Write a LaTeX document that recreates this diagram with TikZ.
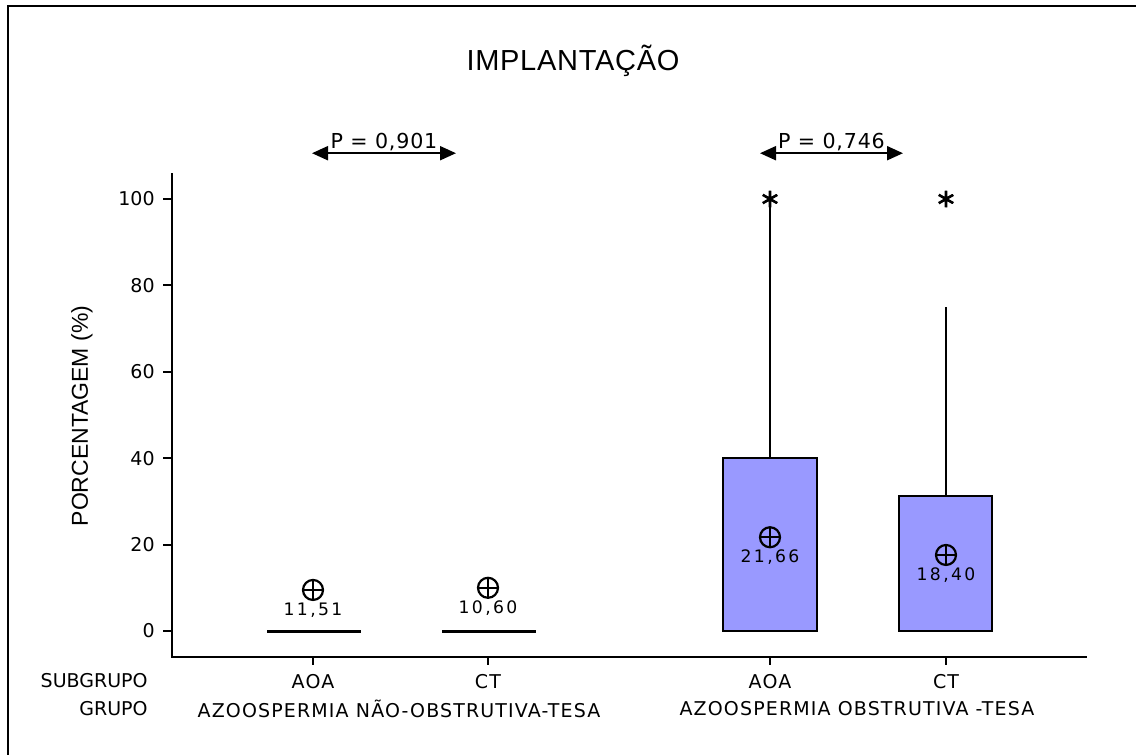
\documentclass[tikz,border=0pt]{standalone}
\usepackage{fontspec}
\setmainfont{DejaVu Sans}
\newfontfamily\arialfont{Liberation Sans}
\newfontfamily\titlefont[LetterSpace=2.5]{Liberation Sans}
\newfontfamily\widefont[LetterSpace=6]{DejaVu Sans}
\newfontfamily\meanfont[LetterSpace=14]{DejaVu Sans}
\newfontfamily\pfont[LetterSpace=4]{DejaVu Sans}
\usetikzlibrary{arrows.meta}
\definecolor{boxblue}{RGB}{153,153,255}
\tikzset{
  axis/.style={line width=1pt},
  lbl/.style={font=\fontsize{9.5}{11}\selectfont, inner sep=0},
  grp/.style={font=\widefont\fontsize{9.5}{11}\selectfont, inner sep=0},
  bplot/.style={draw, fill=boxblue, line width=1pt},
  whisk/.style={line width=0.8pt},
  median/.style={line width=1.5pt},
  meanmark/.style={draw, circle, line width=1.1pt, minimum size=10pt, inner sep=0,
    path picture={\draw[line width=1.1pt] (path picture bounding box.north) -- (path picture bounding box.south)
      (path picture bounding box.west) -- (path picture bounding box.east);}},
  meanlbl/.style={font=\meanfont\fontsize{8.6}{10}\selectfont, inner sep=0, anchor=north, yshift=-0.6pt},
  outlier/.style={circle, minimum size=8.5pt, inner sep=0,
    path picture={\draw[line width=1.3pt, shift={(path picture bounding box.center)}]
      (90:4.25pt) -- (270:4.25pt) (30:4.25pt) -- (210:4.25pt) (150:4.25pt) -- (330:4.25pt);}},
  pval/.style={{Triangle[length=8pt,width=7pt]}-{Triangle[length=8pt,width=7pt]}, line width=1pt},
  plbl/.style={font=\pfont\fontsize{10.3}{12}\selectfont, inner sep=0.8pt, above}
}
\begin{document}
\begin{tikzpicture}[x=0.5pt, y=-0.5pt]
    \useasboundingbox (0,0) rectangle (1136,755);
    \draw[line width=1pt] (8,765) |- (1145,6);

    \node[font=\titlefont\fontsize{14.5}{17}\selectfont] (title) at (573,61) {IMPLANTAÇÃO};
    \node[rotate=90, font=\arialfont\fontsize{11.5}{13}\selectfont] (ylab) at (82,416) {PORCENTAGEM (\%)};

    \begin{scope}[shift={(0,631)}, y=2.16pt]
        \draw[axis] (172,106) coordinate (ytop) -- (172,-6) coordinate (origin) -- (1087,-6) coordinate (xend);
        \foreach \v in {0,20,...,100} {
            \draw[axis] (163,\v) -- (172,\v);
            \node[lbl, anchor=east] (y\v) at (155,\v) {\v};
        }
        \foreach \x/\t [count=\i] in {313/AOA,488/CT,770/AOA,946/CT} {
            \draw[axis] (\x,-6) -- (\x,-7.9);
            \node[grp] (sub\i) at (\x,-11.6) {\t};
        }

        \draw[median] (267,0) -- (361,0);
        \draw[median] (442,0) -- (536,0);
        \draw[bplot] (723,0) rectangle (817,40);
        \draw[bplot] (899,0) rectangle (992,31.25);

        \node[outlier] (o1) at (770,100) {};
        \node[outlier] (o2) at (946,100) {};
        \coordinate (q1) at (770,40);
        \coordinate (q2) at (946,31.25);
        \coordinate (w2) at (946,75);
        \draw[whisk] (q1) -- (o1.center);
        \draw[whisk] (q2) -- (w2);

        \node[meanmark] (m1) at (313,9.5) {};
        \node[meanmark] (m2) at (488,10) {};
        \node[meanmark] (m3) at (770,21.7) {};
        \node[meanmark] (m4) at (946,17.6) {};
        \node[meanlbl] at (m1.south) {11,51};
        \node[meanlbl] at (m2.south) {10,60};
        \node[meanlbl] at (m3.south) {21,66};
        \node[meanlbl] at (m4.south) {18,40};

        \coordinate (p1a) at (312,110.6);
        \coordinate (p1b) at (456,110.6);
        \coordinate (p2a) at (760,110.6);
        \coordinate (p2b) at (903,110.6);
        \draw[pval] (p1a) -- (p1b) node[midway, plbl] {P = 0,901};
        \draw[pval] (p2a) -- (p2b) node[midway, plbl] {P = 0,746};
    \end{scope}

    \node[lbl, anchor=east] (subgrupo) at (148,681) {SUBGRUPO};
    \node[lbl, anchor=east] (grupo) at (148,709) {GRUPO};
    \node[grp] (g1) at (399,709) {AZOOSPERMIA NÃO-OBSTRUTIVA-TESA};
    \node[grp] (g2) at (857,709) {AZOOSPERMIA OBSTRUTIVA -TESA};
\end{tikzpicture}
\end{document}
